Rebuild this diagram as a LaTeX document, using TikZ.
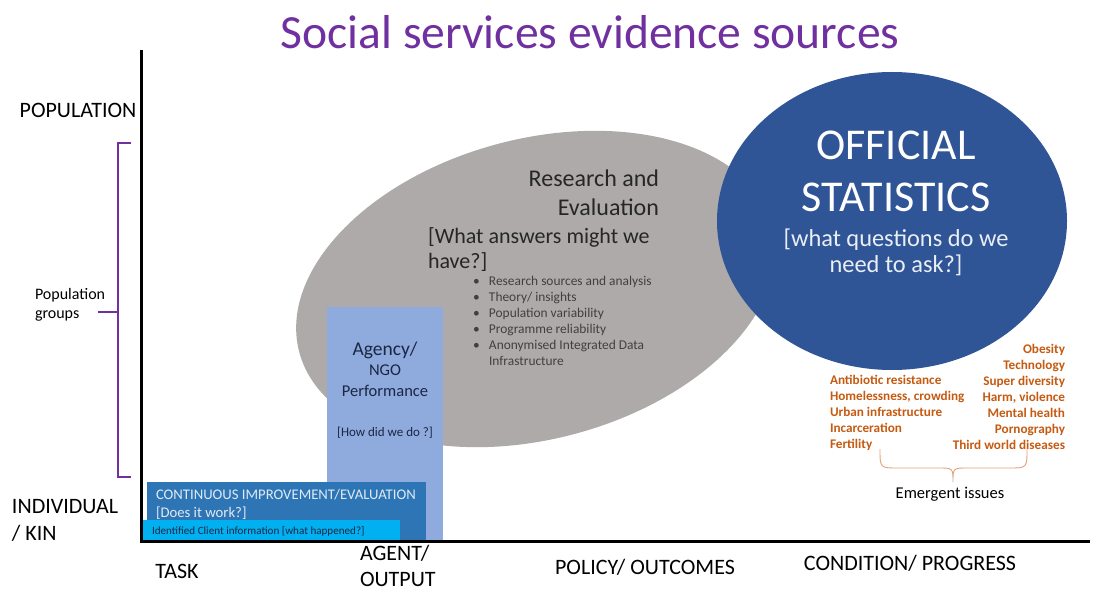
\documentclass[tikz,border=0pt]{standalone}
\usepackage{fontspec}
\setmainfont{Carlito}
\usetikzlibrary{positioning}
\definecolor{titlepurple}{HTML}{7030A0}
\definecolor{researchgrey}{HTML}{AEAAAA}
\definecolor{statblue}{HTML}{2F5597}
\definecolor{agencyblue}{HTML}{8FAADC}
\definecolor{cipblue}{HTML}{2E75B6}
\definecolor{clientcyan}{HTML}{00B0F0}
\definecolor{issueorange}{HTML}{C55A11}
\definecolor{navytext}{HTML}{1A2744}

\begin{document}
\begin{tikzpicture}[x=1pt,y=-1pt,every node/.style={inner sep=0pt,outer sep=0pt},
  axislabel/.style={font=\fontsize{22}{27}\selectfont,align=left},
  issue/.style={font=\fontsize{13.2}{16.1}\selectfont\bfseries,text=issueorange}]
\useasboundingbox[fill=white] (0,0) rectangle (1100,593);
\node[text=titlepurple,font=\fontsize{47.6}{50}\selectfont] (title) at (590,32) {Social services evidence sources};
% evidence sources
\fill[researchgrey,rotate around={15:(536,289)}] (536,289) ellipse [x radius=245pt,y radius=150pt];
\fill[agencyblue] (327,307) rectangle (443,541);
\fill[statblue] (892,221) ellipse [x radius=175pt,y radius=149pt];
\fill[cipblue] (147,482) rectangle (426,541);
\fill[clientcyan] (143,520) rectangle (400,541);
\node[anchor=east,align=right,text=black!85,font=\fontsize{24}{29}\selectfont] (research) at (659,193) {Research and\\Evaluation};
\node[anchor=west,align=left,text=black!85,font=\fontsize{22}{25}\selectfont] (answers) at (428,250) {[What answers might we\\{}have?]};
\node[anchor=west,align=left,text=black!75,font=\fontsize{13.4}{16}\selectfont] (bullets) at (473,321) {\makebox[16pt][l]{\textbullet}Research sources and analysis\\\makebox[16pt][l]{\textbullet}Theory/ insights\\\makebox[16pt][l]{\textbullet}Population variability\\\makebox[16pt][l]{\textbullet}Programme reliability\\\makebox[16pt][l]{\textbullet}Anonymised Integrated Data\\\hspace*{16pt}Infrastructure};
\node[align=center,text=white,font=\fontsize{44}{52}\selectfont] (official) at (896,171) {OFFICIAL\\STATISTICS};
\node[align=center,text=white!90!statblue,font=\fontsize{24.4}{26}\selectfont] (questions) at (896,252) {[what questions do we\\{}need to ask?]};
\node[align=center,text=navytext,font=\fontsize{16.5}{20.5}\selectfont] (agency) at (385,369) {{\fontsize{19.5}{21}\selectfont Agency/}\\NGO\\Performance};
\node[text=navytext,font=\fontsize{13}{15}\selectfont] (howdid) at (385,433) {[How did we do ?]};
\node[anchor=west,align=left,text=white!85!cipblue,font=\fontsize{14.7}{18}\selectfont] (cip) at (156,504) {CONTINUOUS IMPROVEMENT/EVALUATION\\{}[Does it work?]};
\node[anchor=west,text=navytext,font=\fontsize{11.1}{12}\selectfont] (client) at (152,531) {Identified Client information [what happened?]};
% axes
\draw[line width=3pt] (141,50) -- (141,541) -- (1090,541);
\node[axislabel] (population) at (78,110) {POPULATION};
\node[axislabel,anchor=west] (individual) at (12,520) {INDIVIDUAL\\/ KIN};
\draw[titlepurple,line width=2.5pt] (131,143) -- (118,143) -- (118,477) -- (131,477);
\draw[titlepurple,line width=2.5pt] (118,312) -- (98,312);
\node[anchor=west,align=left,font=\fontsize{16}{19}\selectfont] (groups) at (35,305) {Population\\groups};
\node[axislabel] (task) at (177,571) {TASK};
\node[axislabel,anchor=west,font=\fontsize{22}{25.5}\selectfont] (agent) at (360,566) {AGENT/\\OUTPUT};
\node[axislabel] (policy) at (645,567) {POLICY/ OUTCOMES};
\node[axislabel] (condition) at (910,563) {CONDITION/ PROGRESS};
% emergent issues
\node[issue,anchor=west,align=left] (issuesleft) at (830,413) {Antibiotic resistance\\Homelessness, crowding\\Urban infrastructure\\Incarceration\\Fertility};
\node[issue,anchor=east,align=right] (issuesright) at (1065,397) {Obesity\\Technology\\Super diversity\\Harm, violence\\Mental health\\Pornography\\Third world diseases};
\draw[issueorange!55,line width=0.9pt] (880,449) .. controls (880,468) and (880,468) .. (898,468) -- (938,468) .. controls (953,468) and (953,468) .. (953,482) .. controls (953,468) and (953,468) .. (968,468) -- (1009,468) .. controls (1027,468) and (1027,468) .. (1027,449);
\node[font=\fontsize{16.5}{18}\selectfont] (emergent) at (950,494) {Emergent issues};
\end{tikzpicture}
\end{document}
